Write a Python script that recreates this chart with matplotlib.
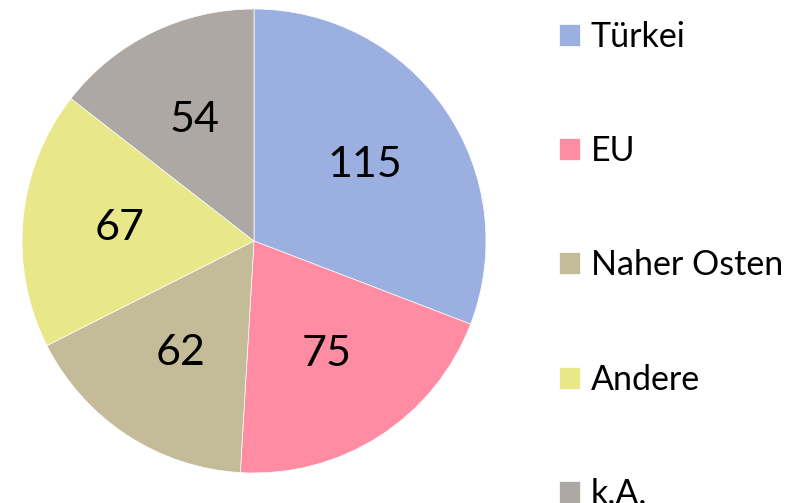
import matplotlib.pyplot as plt

labels = ['Türkei', 'EU', 'Naher Osten', 'Andere', 'k.A.']
values = [115, 75, 62, 67, 54]
colors = ['#9BB0E0', '#FF8CA3', '#C4BC99', '#E8E88A', '#ADA8A3']

plt.rcParams['font.family'] = ['Lato', 'DejaVu Sans']

fig = plt.figure(figsize=(7.94, 5.03), dpi=100)
ax = fig.add_axes([22 / 794, 30 / 503, 464 / 794, 464 / 503])

wedges, texts = ax.pie(values, colors=colors, startangle=90, counterclock=False,
                       radius=1, labels=[str(v) for v in values], labeldistance=0.58,
                       wedgeprops=dict(linewidth=0.5, edgecolor='white'),
                       textprops=dict(fontsize=31, color='black'))
for t in texts:
    t.set_horizontalalignment('center')
    t.set_verticalalignment('center')
ax.set_xlim(-1, 1)
ax.set_ylim(-1, 1)

# Legende rechts
fig.legend(wedges, labels, loc='upper left', bbox_to_anchor=(545 / 794, 1 - 7 / 503),
           frameon=False, fontsize=24.5, handlelength=0.62, handleheight=0.62,
           handletextpad=0.32, labelspacing=2.42, borderaxespad=0)

fig.savefig('out.png', dpi=100)
